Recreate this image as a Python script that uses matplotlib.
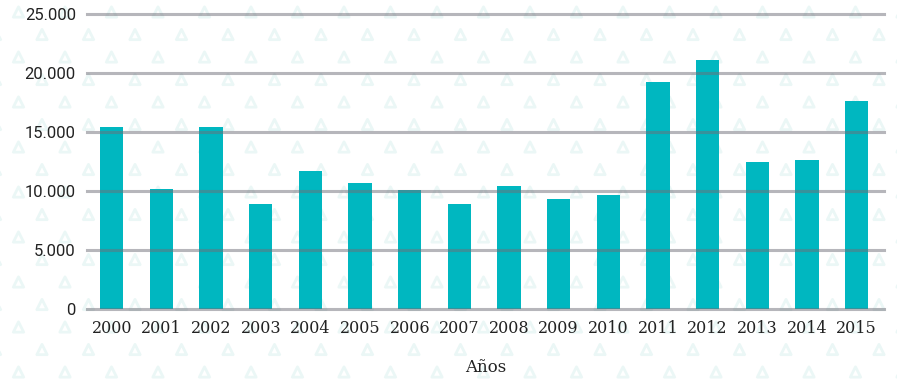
import matplotlib.pyplot as plt
import numpy as np

years = ['2000', '2001', '2002', '2003', '2004', '2005', '2006', '2007',
         '2008', '2009', '2010', '2011', '2012', '2013', '2014', '2015']
values = [15400, 10150, 15400, 8900, 11700, 10700, 10100, 8900,
          10450, 9350, 9650, 19250, 21100, 12450, 12650, 17650]
yticks = [0, 5000, 10000, 15000, 20000, 25000]
ytick_labels = ['0', '5.000', '10.000', '15.000', '20.000', '25.000']

fig = plt.figure(figsize=(8.97, 3.80), dpi=100)

# faint watermark pattern in the background
bg = fig.add_axes([0, 0, 1, 1], zorder=-1)
bg.set_xlim(0, 897)
bg.set_ylim(380, 0)
bg.axis('off')
for r, yy in enumerate(np.arange(12, 390, 22.5)):
    off = 0 if r % 2 == 0 else -23
    xs = np.arange(113 + off - 47 * 3, 910, 46.5)
    bg.scatter(xs, np.full(len(xs), yy), marker='^', s=55, facecolors='none',
               edgecolors='#ebf7f6', linewidths=2.0)

ax = fig.add_axes([87 / 897, 1 - 309 / 380, (884 - 87) / 897, (309 - 14) / 380])
ax.patch.set_alpha(0)
x = np.arange(len(years))
ax.bar(x, values, width=0.47, color='#00b7c0', zorder=2)
ax.set_ylim(0, 25000)
ax.set_xlim(-0.5, 15.55)
ax.set_yticks(yticks)
ax.set_yticklabels(ytick_labels, fontsize=12, family='Roboto', color='#222222')
ax.set_xticks(x)
ax.set_xticklabels(years, fontsize=11.5, family='DejaVu Serif', color='#222222')
for yv in yticks:
    ax.axhline(yv, color='#6e6e78', alpha=0.5, lw=2.2, zorder=3, clip_on=False)
ax.tick_params(length=0, pad=8)
for s in ax.spines.values():
    s.set_visible(False)
ax.set_xlabel('Años', fontsize=12, family='DejaVu Serif', color='#222222', labelpad=16)

plt.savefig('out.png', dpi=100)
